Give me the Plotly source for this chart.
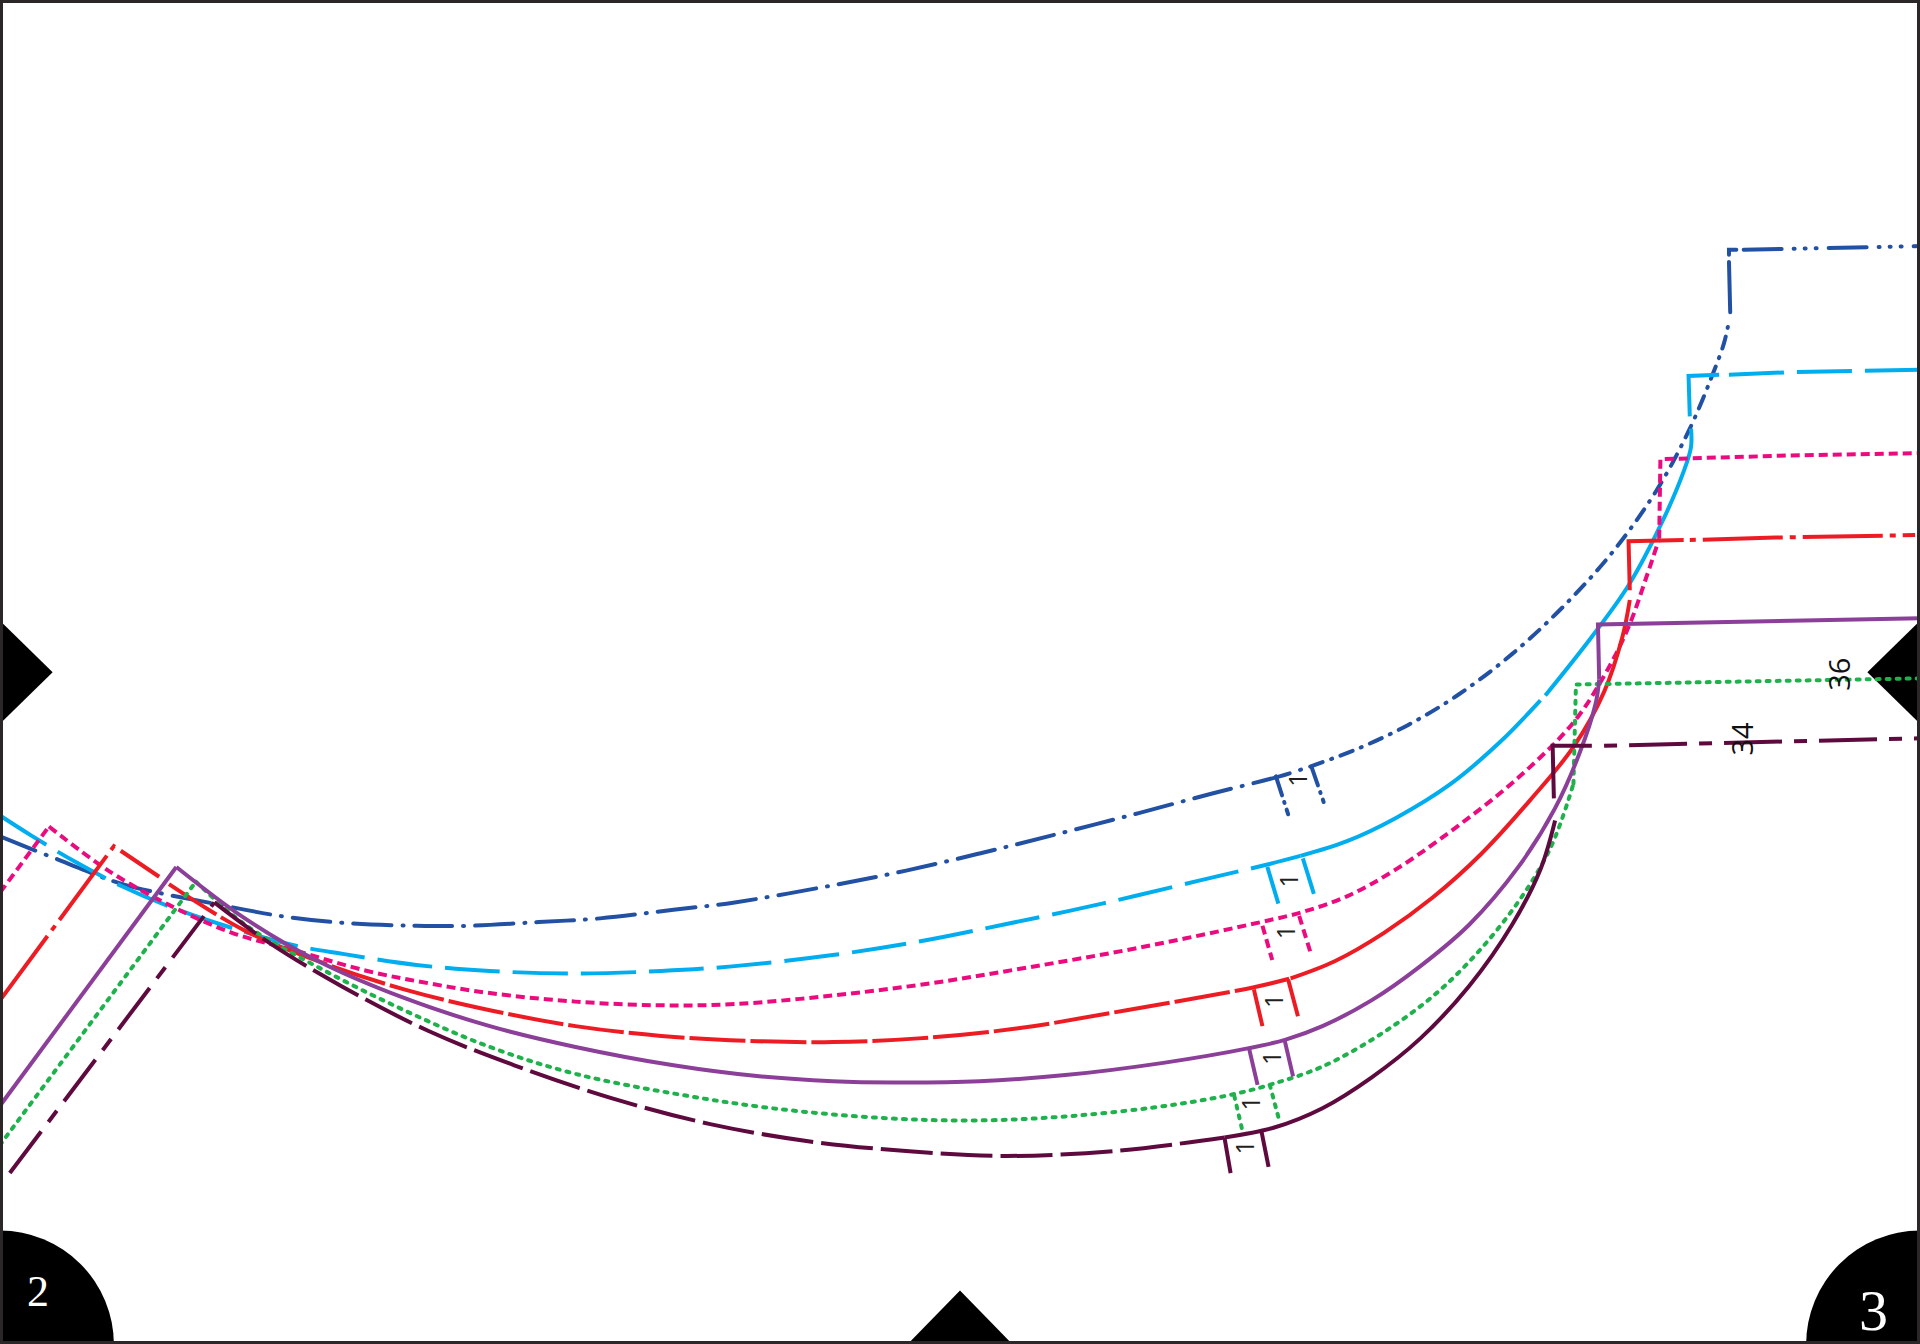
import plotly.graph_objects as go

# Pattern-piece outlines (axis units: 0-1568 by 0-1097.6)
navy_a_x = [0, 50, 100, 175, 235, 285, 340, 385, 440, 490, 550, 600, 680, 740, 800, 860, 930, 990, 1045, 1070]
navy_a_y = [683, 703, 722, 738, 749, 754, 756, 756, 753, 750, 743, 737, 723, 711, 697, 682, 664, 648, 634, 626]
navy_b_x = [1070, 1110, 1150, 1190, 1235, 1280, 1320, 1355, 1380, 1397, 1408, 1412]
navy_b_y = [626, 611, 592, 568, 534, 492, 447, 397, 350, 310, 280, 262]
navy_tab_v_x = [1413, 1412]
navy_tab_v_y = [255, 214]
navy_tab_c_x = [1412, 1412, 1418]
navy_tab_c_y = [208, 204, 204]
navy_tab_h_x = [1424, 1470, 1568]
navy_tab_h_y = [204, 203, 201]

sky_dash_x = [0, 25, 60, 100, 140, 190, 240, 280, 340, 400, 470, 540, 600, 680, 750, 820, 900, 980, 1035, 1062]
sky_dash_y = [666, 682, 703, 724, 741, 758, 772, 779, 788, 793, 795, 793, 789, 780, 769, 755, 738, 719, 706, 699]
sky_solid_a_x = [1062, 1100, 1140, 1185, 1225, 1258]
sky_solid_a_y = [699, 687, 668, 640, 606, 572]
sky_solid_b_x = [1262, 1300, 1330, 1358, 1375, 1381, 1381]
sky_solid_b_y = [568, 520, 478, 425, 385, 365, 350]
sky_tab_x = [1380, 1379, 1404]
sky_tab_y = [340, 307, 306]
sky_tab_h_x = [1412, 1460, 1568]
sky_tab_h_y = [306, 304, 302]

pink_leg_x = [0, 40]
pink_leg_y = [729, 675]
pink_curve_x = [40, 90, 140, 190, 240, 300, 350, 400, 470, 540, 600, 680, 760, 840, 930, 1030, 1063, 1100, 1140, 1190, 1240, 1285, 1310, 1330, 1345, 1355]
pink_curve_y = [675, 712, 740, 762, 776, 793, 803, 811, 818, 821, 820, 813, 803, 790, 774, 753, 745, 732, 710, 675, 635, 590, 552, 512, 470, 440]
pink_tab_x = [1355, 1356, 1460, 1568]
pink_tab_y = [440, 375, 372, 370]

red_leg_x = [0, 93, 130]
red_leg_y = [817, 691, 716]
red_dash_x = [138, 200, 260, 330, 400, 470, 540, 610, 680, 750, 830, 920, 1025, 1054]
red_dash_y = [722, 760, 785, 808, 825, 838, 846, 850, 851, 848, 840, 825, 806, 799]
red_solid_x = [1054, 1090, 1130, 1170, 1210, 1250, 1285, 1310, 1325, 1331]
red_solid_y = [799, 785, 762, 733, 697, 653, 610, 565, 520, 490]
red_corner_x = [1331, 1330, 1375]
red_corner_y = [482, 442, 441]
red_tab_x = [1380, 1450, 1564]
red_tab_y = [441, 439, 437]

purple_leg_x = [0, 144]
purple_leg_y = [903, 708]
purple_curve_x = [144, 200, 260, 330, 400, 470, 550, 620, 680, 730, 800, 870, 950, 1020, 1050, 1080, 1120, 1160, 1200, 1240, 1270, 1290, 1303, 1306]
purple_curve_y = [708, 750, 785, 815, 838, 855, 870, 879, 883, 884, 883, 878, 868, 856, 849, 838, 817, 789, 755, 708, 660, 615, 575, 555]
purple_tab_x = [1306, 1305, 1568]
purple_tab_y = [555, 510, 505]

green_leg_x = [0, 160]
green_leg_y = [935, 720]
green_curve_x = [160, 200, 260, 330, 400, 470, 550, 630, 720, 800, 880, 960, 1010, 1040, 1080, 1130, 1180, 1230, 1265, 1285]
green_curve_y = [720, 755, 790, 825, 855, 877, 893, 905, 913, 915, 911, 902, 893, 885, 871, 843, 805, 750, 695, 640]
green_tab_x = [1285, 1287, 1400, 1568]
green_tab_y = [640, 559, 557, 554]

maroon_leg_x = [8, 175]
maroon_leg_y = [958, 737]
maroon_dash_x = [175, 220, 280, 350, 420, 500, 580, 660, 740, 820, 910, 1000]
maroon_dash_y = [737, 770, 806, 842, 870, 897, 918, 932, 940, 944, 940, 929]
maroon_solid_x = [1000, 1040, 1080, 1120, 1160, 1200, 1235, 1258, 1270]
maroon_solid_y = [929, 921, 905, 880, 848, 805, 755, 710, 670]
maroon_corner_x = [1269, 1268, 1300]
maroon_corner_y = [652, 609, 609]
maroon_tab_x = [1310, 1568]
maroon_tab_y = [609, 603]

# Notches, one pair per size
navy_notch_x = [1042, 1052, None, 1071, 1081]
navy_notch_y = [634, 665, None, 626, 655]
sky_notch_x = [1035, 1044, None, 1064, 1073]
sky_notch_y = [708, 738, None, 701, 730]
pink_notch_x = [1031, 1039, None, 1061, 1070]
pink_notch_y = [756, 784, None, 748, 777]
red_notch_x = [1024, 1031, None, 1052, 1060]
red_notch_y = [808, 838, None, 800, 830]
purple_notch_x = [1020, 1027, None, 1049, 1056]
purple_notch_y = [856, 886, None, 849, 879]
green_notch_x = [1008, 1015, None, 1037, 1045]
green_notch_y = [895, 925, None, 886, 916]
maroon_notch_x = [1000, 1005, None, 1030, 1036]
maroon_notch_y = [929, 958, None, 923, 953]

# Labels
one_x = [1059, 1052, 1049, 1040, 1038, 1021, 1016]
one_y = [637, 719, 761, 817, 864, 901, 937]
size_labels = ["34", "36"]
size_x = [1422, 1502]
size_y = [603, 551]
page_labels = ["2", "3"]
page_x = [31, 1530]
page_y = [1055, 1070]
page_sizes = [44, 58]

# Registration marks
mark_left_x = [0, 43, 0]
mark_left_y = [507, 549, 591]
mark_right_x = [1568, 1525, 1568]
mark_right_y = [507, 549, 591]
mark_bottom_x = [741, 784, 827]
mark_bottom_y = [1098, 1054, 1098]

NAVY = "#2251a4"
SKY = "#00aeef"
PINK = "#ec0a7f"
RED = "#ed1c24"
PURPLE = "#8c3f98"
GREEN = "#1fb14c"
MAROON = "#5f0a3f"

D_NAVY_A = "38px,11px,1px,11px"
D_NAVY_B = "13px,9px,1px,9px"
D_NAVY_TAB = "38px,12px,1px,10px,1px,10px,1px,12px"
D_SKY = "55px,13px"
D_PINK = "9px,5px"
D_RED_LEG = "80px,7px,6px,7px"
D_RED = "56px,5px"
D_GREEN = "3px,7px"
D_MAROON_LEG = "52px,12px,14px,12px"
D_MAROON = "52px,8px"
D_MAROON_TAB = "13px,12px,58px,12px"

fig = go.Figure()

for xs, ys in [(mark_left_x, mark_left_y), (mark_right_x, mark_right_y), (mark_bottom_x, mark_bottom_y)]:
    fig.add_trace(go.Scatter(x=xs, y=ys, mode="lines", fill="toself", fillcolor="#000000",
                             line=dict(width=0), hoverinfo="skip"))

# x, y, colour, dash, smooth
lines = [
    (navy_a_x, navy_a_y, NAVY, D_NAVY_A, True),
    (navy_b_x, navy_b_y, NAVY, D_NAVY_B, True),
    (navy_tab_v_x, navy_tab_v_y, NAVY, "solid", False),
    (navy_tab_c_x, navy_tab_c_y, NAVY, "solid", False),
    (navy_tab_h_x, navy_tab_h_y, NAVY, D_NAVY_TAB, False),
    (navy_notch_x, navy_notch_y, NAVY, "20px,7px,1px,7px", False),
    (sky_dash_x, sky_dash_y, SKY, D_SKY, True),
    (sky_solid_a_x, sky_solid_a_y, SKY, "solid", True),
    (sky_solid_b_x, sky_solid_b_y, SKY, "solid", True),
    (sky_tab_x, sky_tab_y, SKY, "solid", False),
    (sky_tab_h_x, sky_tab_h_y, SKY, D_SKY, False),
    (sky_notch_x, sky_notch_y, SKY, "solid", False),
    (pink_leg_x, pink_leg_y, PINK, D_PINK, False),
    (pink_curve_x, pink_curve_y, PINK, D_PINK, True),
    (pink_tab_x, pink_tab_y, PINK, D_PINK, False),
    (pink_notch_x, pink_notch_y, PINK, D_PINK, False),
    (red_leg_x, red_leg_y, RED, D_RED_LEG, False),
    (red_dash_x, red_dash_y, RED, D_RED, True),
    (red_solid_x, red_solid_y, RED, "solid", True),
    (red_corner_x, red_corner_y, RED, "solid", False),
    (red_tab_x, red_tab_y, RED, "6px,7px,80px,7px", False),
    (red_notch_x, red_notch_y, RED, "solid", False),
    (green_leg_x, green_leg_y, GREEN, D_GREEN, False),
    (green_curve_x, green_curve_y, GREEN, D_GREEN, True),
    (green_tab_x, green_tab_y, GREEN, D_GREEN, False),
    (green_notch_x, green_notch_y, GREEN, D_GREEN, False),
    (purple_leg_x, purple_leg_y, PURPLE, "solid", False),
    (purple_curve_x, purple_curve_y, PURPLE, "solid", True),
    (purple_tab_x, purple_tab_y, PURPLE, "solid", False),
    (purple_notch_x, purple_notch_y, PURPLE, "solid", False),
    (maroon_leg_x, maroon_leg_y, MAROON, D_MAROON_LEG, False),
    (maroon_dash_x, maroon_dash_y, MAROON, D_MAROON, True),
    (maroon_solid_x, maroon_solid_y, MAROON, "solid", True),
    (maroon_corner_x, maroon_corner_y, MAROON, "solid", False),
    (maroon_tab_x, maroon_tab_y, MAROON, D_MAROON_TAB, False),
    (maroon_notch_x, maroon_notch_y, MAROON, "solid", False),
]
for xs, ys, col, dash, smooth in lines:
    fig.add_trace(go.Scatter(x=xs, y=ys, mode="lines", connectgaps=False,
                             line=dict(color=col, width=4, dash=dash,
                                       shape="spline" if smooth else "linear"),
                             hoverinfo="skip"))

for xv, yv in zip(one_x, one_y):
    fig.add_annotation(x=xv, y=yv, text="1", textangle=-90, showarrow=False,
                       font=dict(family="Open Sans", size=25, color="#231f20"))
for t, xv, yv in zip(size_labels, size_x, size_y):
    fig.add_annotation(x=xv, y=yv, text=t, textangle=-90, showarrow=False,
                       font=dict(family="Open Sans", size=29, color="#111111"))
for t, xv, yv, s in zip(page_labels, page_x, page_y, page_sizes):
    fig.add_annotation(x=xv, y=yv, text=t, showarrow=False,
                       font=dict(family="Liberation Serif", size=s, color="#ffffff"))

fig.update_layout(
    width=1920, height=1344, margin=dict(l=0, r=0, t=0, b=0),
    paper_bgcolor="#ffffff", plot_bgcolor="#ffffff", showlegend=False,
    xaxis=dict(range=[0, 1568], visible=False, fixedrange=True),
    yaxis=dict(range=[1097.6, 0], visible=False, fixedrange=True),
    shapes=[
        dict(type="circle", xref="x", yref="y", x0=-93, x1=93, y0=1005, y1=1191,
             fillcolor="#000000", line=dict(width=0), layer="below"),
        dict(type="circle", xref="x", yref="y", x0=1475, x1=1661, y0=1005, y1=1191,
             fillcolor="#000000", line=dict(width=0), layer="below"),
        dict(type="rect", xref="paper", yref="paper", x0=0, x1=1, y0=0, y1=1,
             line=dict(color="#2b2728", width=6), layer="above"),
    ],
)
round_caps = """
document.body.style.margin='0';
document.querySelectorAll('.scatterlayer path.js-line').forEach(function(p){
  var c = p.style.stroke;
  if (c === 'rgb(31, 177, 76)' || c === 'rgb(34, 81, 164)') { p.style.strokeLinecap = 'round'; }
});
"""
fig.write_html("out.html", post_script=round_caps, config={"displayModeBar": False})
